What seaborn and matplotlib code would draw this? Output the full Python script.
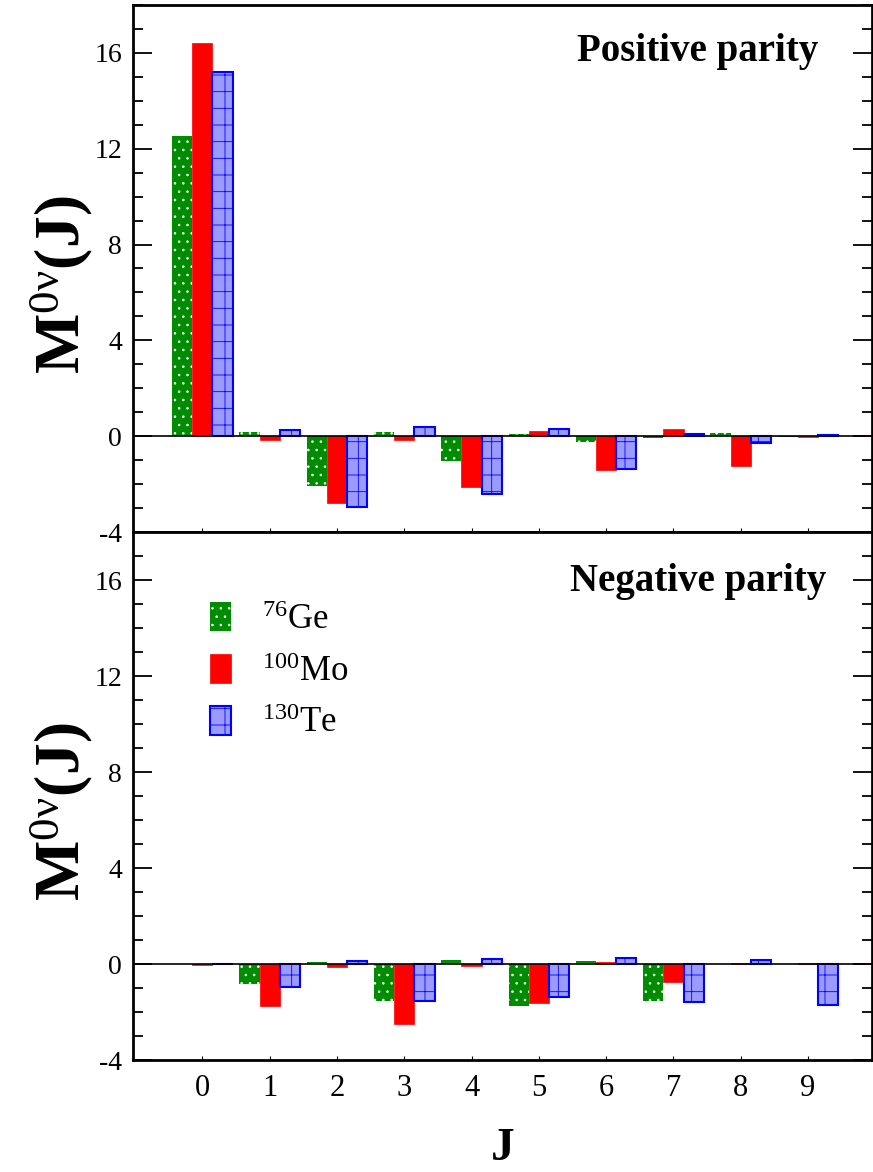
import numpy as np
import pandas as pd
import matplotlib
matplotlib.use("Agg")
import matplotlib.pyplot as plt
import seaborn as sns

# ---- data ----
J = [0, 1, 2, 3, 4, 5, 6, 7, 8, 9, 10]
nuclei = ["76Ge", "100Mo", "130Te"]
labels = [r"$^{76}$Ge", r"$^{100}$Mo", r"$^{130}$Te"]

ge_pos = [12.53, 0.18, -2.09, 0.18, -1.04, 0.08, -0.24, -0.08, 0.14, -0.05, 0.00]
mo_pos = [16.40, -0.14, -2.81, -0.15, -2.13, 0.22, -1.42, 0.32, -1.23, -0.03, 0.05]
te_pos = [15.20, 0.24, -2.94, 0.39, -2.41, 0.28, -1.38, 0.11, -0.29, 0.03, 0.00]

ge_neg = [0.00, -0.84, 0.10, -1.56, 0.17, -1.75, 0.11, -1.56, -0.02, 0.00, -0.02]
mo_neg = [-0.05, -1.75, -0.11, -2.49, -0.07, -1.62, 0.08, -0.74, 0.05, 0.05, 0.05]
te_neg = [-0.02, -0.95, 0.11, -1.56, 0.21, -1.36, 0.24, -1.60, 0.15, -1.70, 0.00]

yticks = [-4, 0, 4, 8, 12, 16]
xticks = [0, 1, 2, 3, 4, 5, 6, 7, 8, 9]
titles = ["Positive parity", "Negative parity"]

# ---- style ----
sns.set_style("ticks")
plt.rcParams["font.family"] = ["Liberation Serif", "DejaVu Serif"]
plt.rcParams["mathtext.fontset"] = "custom"
plt.rcParams["mathtext.rm"] = "Liberation Serif"
plt.rcParams["mathtext.it"] = "Liberation Serif:italic"
plt.rcParams["mathtext.bf"] = "Liberation Serif:bold"
plt.rcParams["hatch.linewidth"] = 0.6
for k in ["text.color", "axes.labelcolor", "xtick.color", "ytick.color",
          "axes.edgecolor"]:
    plt.rcParams[k] = "black"

green = "#008c00"
red = "#ff0000"
blue_face = "#9a9aff"
blue_edge = "#0000ff"
palette = {"76Ge": green, "100Mo": red, "130Te": blue_face}


def make_df(ge, mo, te):
    rows = []
    for name, vals in zip(nuclei, [ge, mo, te]):
        for j, v in zip(J, vals):
            rows.append({"J": j, "M": v, "nucleus": name})
    return pd.DataFrame(rows)


fig = plt.figure(figsize=(8.73, 11.72), dpi=100)
L, R = 133 / 873, 872 / 873
ax1 = fig.add_axes([L, 1 - 532 / 1172, R - L, (532 - 5) / 1172])
ax2 = fig.add_axes([L, 1 - 1060 / 1172, R - L, (1060 - 532) / 1172])

for ax, data, title, tx, ty in [(ax1, (ge_pos, mo_pos, te_pos), titles[0], 0.927, 0.911),
                                (ax2, (ge_neg, mo_neg, te_neg), titles[1], 0.938, 0.907)]:
    df = make_df(*data)
    sns.barplot(data=df, x="J", y="M", hue="nucleus", hue_order=nuclei,
                palette=palette, width=0.9, saturation=1, errorbar=None,
                legend=False, ax=ax)
    conts = ax.containers
    for p in conts[0].patches:
        p.set_facecolor(green)
        p.set_edgecolor("white")
        p.set_hatch("..")
        p.set_linewidth(0)
    for p in conts[1].patches:
        p.set_facecolor(red)
        p.set_edgecolor(red)
        p.set_linewidth(0.5)
    for p in conts[2].patches:
        p.set_facecolor(blue_face)
        p.set_edgecolor(blue_edge)
        p.set_hatch("+")
        p.set_linewidth(1.5)

    ax.axhline(0, color="black", lw=1.2, zorder=5)
    ax.set_xlim(-1.03, 9.95)
    ax.set_ylim(-4, 18)
    ax.set_yticks(yticks)
    ax.set_yticklabels([str(v) for v in yticks])
    ax.yaxis.set_minor_locator(matplotlib.ticker.MultipleLocator(1))
    ax.set_xticks(xticks)
    ax.tick_params(axis="y", which="major", direction="in", length=14,
                   width=1.3, left=True, right=True, labelsize=20, pad=8)
    ax.tick_params(axis="y", which="minor", direction="in", length=7,
                   width=1.3, left=True, right=True)
    ax.tick_params(axis="x", which="major", direction="in", length=3,
                   width=0.8, labelsize=22, pad=10)
    for s in ax.spines.values():
        s.set_linewidth(2)
        s.set_visible(True)
        s.set_color("black")
    ax.set_ylabel(r"$\mathbf{M}^{\mathrm{0\nu}}\mathbf{(J)}$", fontsize=46)
    ax.yaxis.set_label_coords(-0.052, 0.47)
    ax.text(tx, ty, title, transform=ax.transAxes,
            ha="right", va="center", fontsize=28, fontweight="bold")

ax1.set_xlabel("")
ax1.tick_params(axis="x", labelbottom=False)
ax2.set_xlabel("J", fontsize=34, fontweight="bold", labelpad=18)

handles = [c.patches[0] for c in ax2.containers]
leg = ax2.legend(handles, labels, loc="upper left",
                 bbox_to_anchor=(0.085, 0.893), frameon=False,
                 fontsize=25, handlelength=0.6, handleheight=0.9,
                 handletextpad=0.9, labelspacing=0.5, borderaxespad=0)

fig.savefig("out.png", dpi=100)
